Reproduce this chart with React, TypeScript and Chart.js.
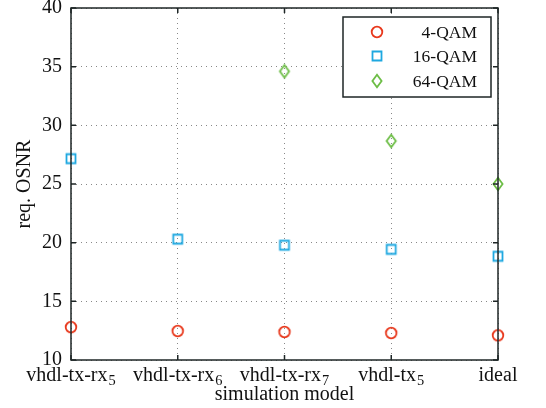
import React, { useEffect, useRef } from "react";
import { Chart, registerables } from "chart.js";

Chart.register(...registerables);

// "_n" marks a subscript digit
const categories = ["vhdl-tx-rx_5", "vhdl-tx-rx_6", "vhdl-tx-rx_7", "vhdl-tx_5", "ideal"];
const qam4 = [12.8, 12.47, 12.39, 12.3, 12.1];
const qam16 = [27.16, 20.3, 19.78, 19.43, 18.84];
const qam64: (number | null)[] = [null, null, 34.6, 28.67, 25.0];
const yTicks = [10, 15, 20, 25, 30, 35, 40];

const FONT = "'Liberation Serif', 'Times New Roman', serif";
const FRAME = "#1e2626";
const FS = 20;
const LFS = 17.5;

function markerCanvas(style: string, color: string): HTMLCanvasElement {
  const c = document.createElement("canvas");
  c.width = 20;
  c.height = 20;
  const ctx = c.getContext("2d")!;
  ctx.strokeStyle = color;
  ctx.lineWidth = 1.8;
  ctx.beginPath();
  const x = 10, y = 10;
  if (style === "circle") {
    ctx.arc(x, y, 5.3, 0, Math.PI * 2);
  } else if (style === "rect") {
    ctx.rect(x - 4.5, y - 4.5, 9, 9);
  } else {
    ctx.moveTo(x, y - 6.3);
    ctx.lineTo(x + 4.6, y);
    ctx.lineTo(x, y + 6.3);
    ctx.lineTo(x - 4.6, y);
    ctx.closePath();
  }
  ctx.stroke();
  return c;
}

const framePlugin = {
  id: "frame",
  afterDraw(chart: any) {
    const { ctx, chartArea: a, scales } = chart;
    ctx.save();
    ctx.strokeStyle = FRAME;
    ctx.lineWidth = 1.5;
    const tl = 5;
    ctx.beginPath();
    scales.x.ticks.forEach((_t: any, i: number) => {
      const x = scales.x.getPixelForTick(i);
      ctx.moveTo(x, a.bottom);
      ctx.lineTo(x, a.bottom - tl);
      ctx.moveTo(x, a.top);
      ctx.lineTo(x, a.top + tl);
    });
    scales.y.ticks.forEach((_t: any, i: number) => {
      const y = scales.y.getPixelForTick(i);
      ctx.moveTo(a.left, y);
      ctx.lineTo(a.left + tl, y);
      ctx.moveTo(a.right, y);
      ctx.lineTo(a.right - tl, y);
    });
    ctx.stroke();
    ctx.strokeRect(a.left, a.top, a.right - a.left, a.bottom - a.top);

    // x tick labels with subscripts
    ctx.fillStyle = "#111";
    ctx.textBaseline = "alphabetic";
    ctx.textAlign = "left";
    const base = a.bottom + 21;
    chart.data.labels.forEach((lab: string, i: number) => {
      const [main, sub] = lab.split("_");
      ctx.font = `${FS}px ${FONT}`;
      const wm = ctx.measureText(main).width;
      ctx.font = `${FS * 0.72}px ${FONT}`;
      const ws = sub ? ctx.measureText(sub).width + 1 : 0;
      const cx = scales.x.getPixelForTick(i);
      const x0 = cx - (wm + ws) / 2;
      ctx.font = `${FS}px ${FONT}`;
      ctx.fillText(main, x0, base);
      if (sub) {
        ctx.font = `${FS * 0.72}px ${FONT}`;
        ctx.fillText(sub, x0 + wm + 1, base + 4);
      }
    });

    // legend
    const bx = 343, by = 17, bw = 148, bh = 80;
    ctx.fillStyle = "#fff";
    ctx.fillRect(bx, by, bw, bh);
    ctx.lineWidth = 1.5;
    ctx.strokeStyle = FRAME;
    ctx.strokeRect(bx, by, bw, bh);
    const rows = [32, 56, 81];
    chart.data.datasets.forEach((ds: any, i: number) => {
      const y = rows[i];
      const img = ds.pointStyle as HTMLCanvasElement;
      ctx.drawImage(img, 377 - img.width / 2, y - img.height / 2);
      ctx.fillStyle = "#111";
      ctx.font = `${LFS}px ${FONT}`;
      ctx.textAlign = "right";
      ctx.textBaseline = "middle";
      ctx.fillText(ds.label, 477, y + 1);
    });
    ctx.restore();
  },
};

export default function App() {
  const ref = useRef<HTMLCanvasElement>(null);
  useEffect(() => {
    document.body.style.margin = "0";
    const mk = (label: string, data: (number | null)[], color: string, style: string) => ({
      label,
      data,
      borderColor: color,
      backgroundColor: "rgba(0,0,0,0)",
      pointStyle: markerCanvas(style, color),
      pointRadius: 6,
      showLine: false,
      clip: false as any,
    });
    const chart = new Chart(ref.current!, {
      type: "line",
      data: {
        labels: categories,
        datasets: [
          mk("4-QAM", qam4, "#e8381c", "circle"),
          mk("16-QAM", qam16, "#1ea8e0", "rect"),
          mk("64-QAM", qam64, "#6cbd45", "diamond"),
        ],
      },
      options: {
        responsive: false,
        animation: false,
        layout: { padding: { left: 0, right: 48, top: 8, bottom: 0 } },
        plugins: { legend: { display: false }, tooltip: { enabled: false } },
        scales: {
          x: {
            type: "category",
            offset: false,
            grid: { color: "#888", lineWidth: 1, tickLength: 0, drawTicks: false },
            border: { display: false, dash: [1, 4] },
            ticks: { display: false, autoSkip: false, maxRotation: 0 },
            title: {
              display: true,
              text: "simulation model",
              color: "#111",
              font: { family: FONT, size: FS },
              padding: { top: 0, bottom: 1 },
            },
            afterFit: (s: any) => {
              s.height = 48;
              s.paddingLeft = 0;
              s.paddingRight = 0;
            },
          },
          y: {
            min: 10,
            max: 40,
            afterBuildTicks: (s: any) => {
              s.ticks = yTicks.map((v) => ({ value: v }));
            },
            grid: { color: "#888", lineWidth: 1, tickLength: 0, drawTicks: false },
            border: { display: false, dash: [1, 4] },
            ticks: {
              color: "#111",
              font: { family: FONT, size: FS },
              padding: 9,
            },
            title: {
              display: true,
              text: "req. OSNR",
              color: "#111",
              font: { family: FONT, size: FS },
              padding: { top: 13, bottom: 0 },
            },
            afterFit: (s: any) => {
              s.width = 71;
              s.paddingTop = 0;
              s.paddingBottom = 0;
            },
          },
        },
      },
      plugins: [framePlugin],
    } as any);
    return () => chart.destroy();
  }, []);
  return (
    <div style={{ width: 546, height: 408 }}>
      <canvas ref={ref} width={546} height={408} />
    </div>
  );
}
